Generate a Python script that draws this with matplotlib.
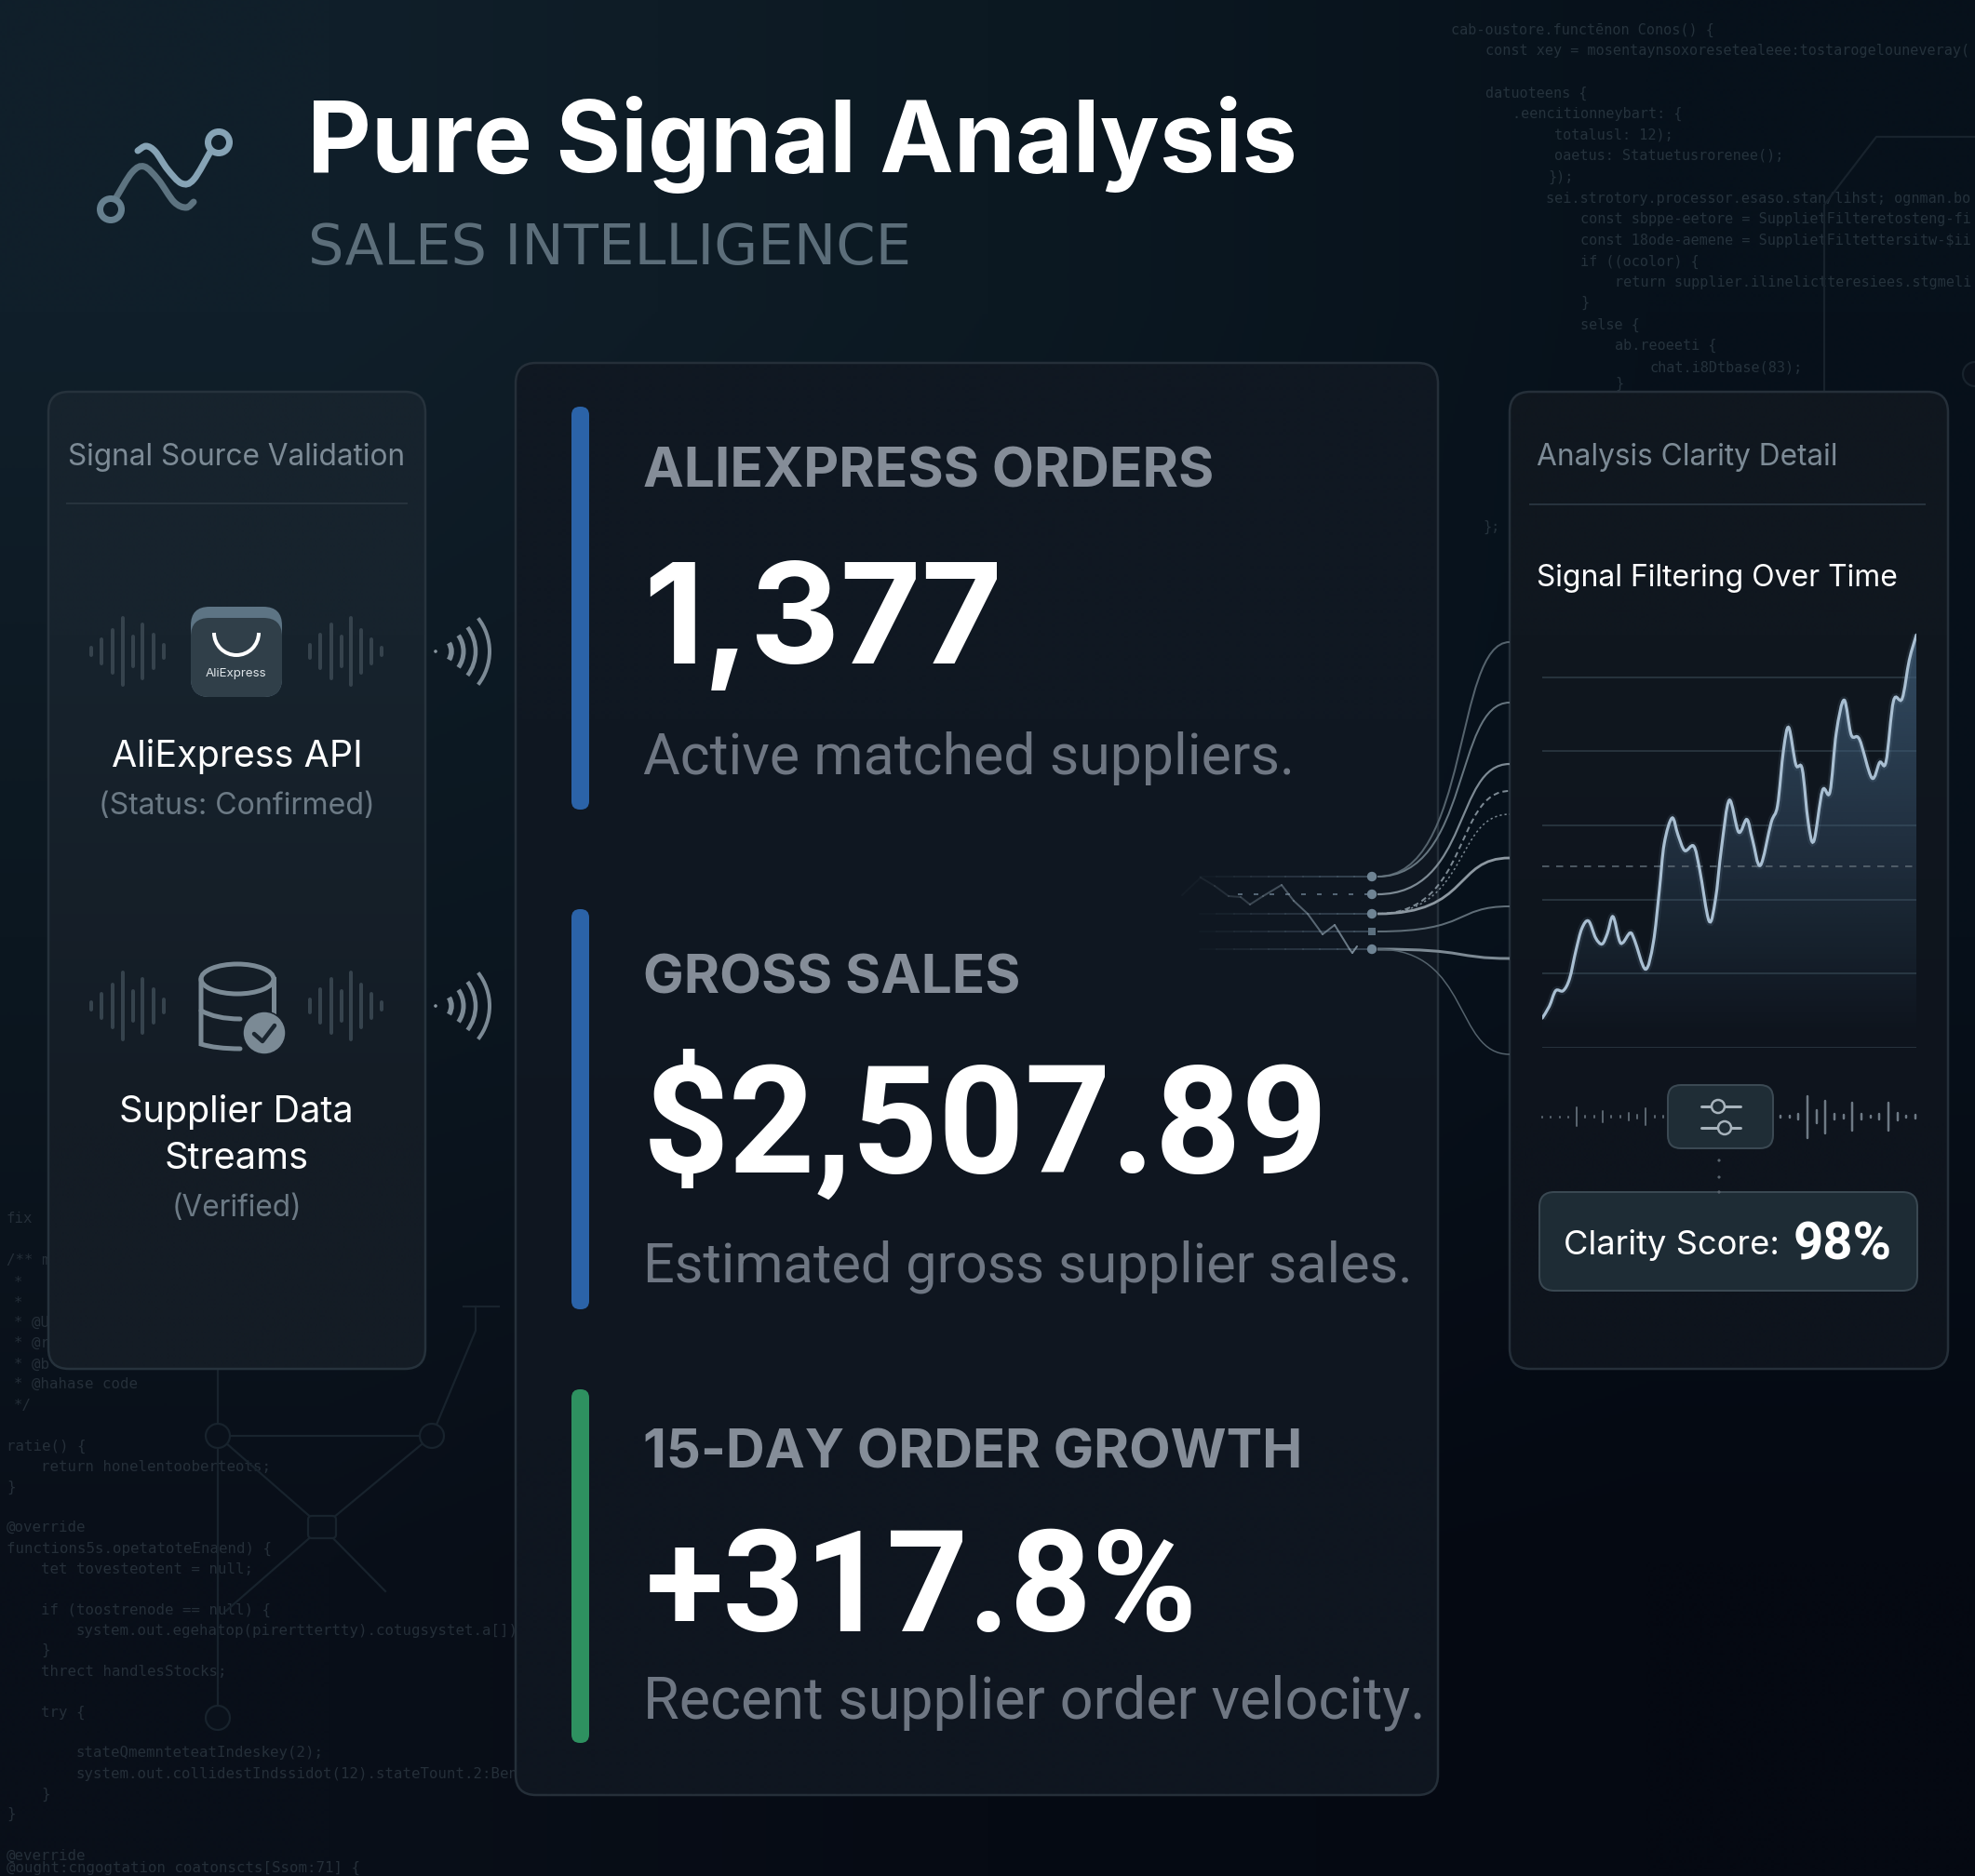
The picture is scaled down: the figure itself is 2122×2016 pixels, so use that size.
import matplotlib
matplotlib.use("Agg")
import matplotlib.pyplot as plt
import numpy as np
from matplotlib.collections import LineCollection
from matplotlib.colors import to_rgb
from matplotlib.patches import Arc, Circle, Ellipse, FancyBboxPatch, PathPatch, Rectangle
from matplotlib.path import Path

W, H = 2122, 2016
PT = 0.72  # one pixel in points at dpi 100
plt.rcParams["font.family"] = ["Inter", "DejaVu Sans"]

# --- chart data ---
title = "Pure Signal Analysis"
subtitle = "SALES INTELLIGENCE"
metric_labels = ["ALIEXPRESS ORDERS", "GROSS SALES", "15-DAY ORDER GROWTH"]
metric_values = ["1,377", "$2,507.89", "+317.8%"]
metric_notes = ["Active matched suppliers.", "Estimated gross supplier sales.", "Recent supplier order velocity."]
clarity_score = "98%"

signal_t = [0, 1.9, 3.6, 5.6, 7.3, 9.0, 10.6, 12.4, 14.3, 16.0, 17.4, 18.9, 20.6, 21.6, 23.5, 24.7, 27.6, 29.7,
            31.3, 32.6, 34.7, 36.3, 38.1, 40.5, 42.1, 44.6, 46.3, 47.9, 50.0, 52.5, 54.7, 56.2, 58.3, 61.2, 62.9,
            64.5, 65.9, 67.8, 69.5, 71.1, 72.6, 74.9, 76.9, 78.6, 80.7, 82.6, 84.8, 88.1, 90.2, 91.9, 93.9, 96.2,
            98.1, 100]
signal_v = [4.0, 5.6, 7.7, 7.7, 9.3, 13.1, 16.1, 17.1, 14.8, 14.0, 15.4, 17.7, 14.5, 14.2, 15.5, 14.5, 10.6, 14.2,
            21.2, 27.5, 31.0, 28.7, 26.6, 27.2, 24.0, 17.1, 20.0, 26.9, 33.4, 29.1, 30.8, 28.1, 24.6, 30.4, 32.7,
            40.2, 43.2, 38.2, 37.6, 30.4, 27.9, 34.7, 34.5, 42.5, 46.9, 42.2, 41.6, 36.4, 38.5, 38.6, 46.8, 47.1,
            52.3, 55.7]
grid_levels = [0, 10, 20, 30, 40, 50]
threshold = 24.5

wave_left = [24, 72, 130, 200, 90, 165, 100, 40]
wave_right = [40, 100, 165, 90, 200, 130, 72, 24]
filter_left = [3, 3, 3, 3, 60, 6, 6, 35, 4, 4, 22, 12, 52, 5, 5]
filter_right = [4, 6, 18, 135, 40, 105, 16, 14, 90, 20, 8, 16, 90, 26, 8, 12]

link_from = [942, 942, 961, 982, 982, 982, 1001, 1020, 1020]
link_to = [690, 755, 821, 850, 875, 922, 974, 1030, 1133]
trace_x = [1270, 1290, 1305, 1320, 1333, 1343, 1357, 1377, 1390, 1405, 1421, 1434, 1450, 1453, 1458]
trace_y = [962, 943, 952, 963, 964, 972, 963, 951, 968, 982, 1004, 994, 1020, 1024, 1017]

code_top = [
    (1559, 37, "cab-oustore.functēnon Conos() {"),
    (1596, 59, "const xey = mosentaynsoxoresetealeee:tostarogelouneveray("),
    (1596, 105, "datuoteens {"),
    (1625, 127, ".eencitionneybart: {"),
    (1670, 150, "totalusl: 12);"),
    (1670, 172, "oaetus: Statuetusrorenee();"),
    (1663, 195, "});"),
    (1661, 218, "sei.strotory.processor.esaso.stan/lihst; ognman.bo"),
    (1698, 240, "const sbppe-eetore = SupplietFilteretosteng-fi"),
    (1698, 263, "const 18ode-aemene = SupplietFiltettersitw-$ii"),
    (1698, 286, "if ((ocolor) {"),
    (1735, 308, "return supplier.ilinelictteresiees.stgmeli"),
    (1698, 330, "}"),
    (1698, 354, "selse {"),
    (1735, 376, "ab.reoeeti {"),
    (1772, 399, "chat.i8Dtbase(83);"),
    (1735, 417, "}"),
    (1593, 571, "};"),
]
code_bottom = [
    (7, 1314, "fix"), (7, 1359, "/** m"), (15, 1383, "*"), (15, 1405, "*"), (15, 1426, "* @U"), (15, 1448, "* @r"),
    (15, 1471, "* @b"), (15, 1492, "* @hahase code"), (15, 1515, "*/"), (7, 1559, "ratie() {"),
    (44, 1581, "return honelentooberteots;"), (7, 1603, "}"), (7, 1646, "@override"),
    (7, 1669, "functions5s.opetatoteEnaend) {"), (44, 1691, "tet tovesteotent = null;"),
    (44, 1735, "if (toostrenode == null) {"), (81, 1757, "system.out.egehatop(pirerttertty).cotugsystet.a[]);"),
    (44, 1778, "}"), (44, 1801, "threct handlesStocks;"), (44, 1845, "try {"),
    (81, 1888, "stateQmemnteteatIndeskey(2);"), (81, 1911, "system.out.collidestIndssidot(12).stateTount.2:Ben"),
    (44, 1933, "}"), (7, 1954, "}"), (7, 1999, "@everride"), (7, 2012, "@ought:cngogtation coatonscts[Ssom:71] {"),
]

fig = plt.figure(figsize=(W / 100, H / 100), dpi=100)
ax = fig.add_axes([0, 0, 1, 1])
ax.set_xlim(0, W)
ax.set_ylim(H, 0)
ax.axis("off")
renderer = fig.canvas.get_renderer()


def rgb(c):
    return np.array(to_rgb(c))


def put(s, x0, x1, base, color="white", weight="normal", family=None, z=20):
    t = ax.text(x0, base, s, color=color, fontweight=weight, fontsize=40, va="baseline", ha="left", zorder=z)
    if family:
        t.set_family(family)
    w = t.get_window_extent(renderer).width
    t.set_fontsize(40 * (x1 - x0) / w)
    return t


def panel(x0, y0, x1, y1, top, bottom, edge, r=22, z=5, lw=2.5):
    grad = np.array([[rgb(top)], [rgb(bottom)]])
    box = FancyBboxPatch((x0 + r, y0 + r), x1 - x0 - 2 * r, y1 - y0 - 2 * r, boxstyle=f"round,pad={r},rounding_size={r}",
                         fc="none", ec=edge, lw=lw * PT, zorder=z + 0.5)
    ax.add_patch(box)
    im = ax.imshow(grad, extent=(x0, x1, y1, y0), aspect="auto", interpolation="bilinear", zorder=z)
    im.set_clip_path(box)


def smooth_path(x, y):
    pts = np.column_stack([x, y]).astype(float)
    n = len(pts)
    verts = [pts[0]]
    codes = [Path.MOVETO]
    for i in range(n - 1):
        p0, p1, p2, p3 = pts[max(i - 1, 0)], pts[i], pts[i + 1], pts[min(i + 2, n - 1)]
        verts += [p1 + (p2 - p0) / 6, p2 - (p3 - p1) / 6, p2]
        codes += [Path.CURVE4] * 3
    return Path(verts, codes)


def fade_line(xs, ys, color, a0, a1, lw, z=7):
    xs = np.asarray(xs, float)
    ys = np.asarray(ys, float)
    segs = [[(xs[i], ys[i]), (xs[i + 1], ys[i + 1])] for i in range(len(xs) - 1)]
    alphas = np.linspace(a0, a1, len(segs))
    cols = [(*to_rgb(color), a) for a in alphas]
    ax.add_collection(LineCollection(segs, colors=cols, linewidths=lw * PT, zorder=z, capstyle="round"))


def bars(x_list, heights, yc, color, lw, z=8):
    x_list = np.asarray(x_list, float)
    h = np.asarray(heights, float)
    ax.vlines(x_list, yc - h / 2, yc + h / 2, colors=color, linewidth=lw * PT, capstyle="round", zorder=z)


# background
grid_bg = [["#101f2a", "#0c1922", "#07111b"], ["#0c1720", "#0a1520", "#07101a"], ["#090f19", "#060b14", "#050912"]]
corners = np.array([[rgb(c) for c in row] for row in grid_bg])
ax.imshow(corners, extent=(0, W, H, 0), aspect="auto", interpolation="bilinear", zorder=0)

# faint code
for x, y, s in code_top:
    ax.text(x, y, s, family="DejaVu Sans Mono", fontsize=10.9, color="#25323c", va="baseline", zorder=1)
for x, y, s in code_bottom:
    ax.text(x, y, s, family="DejaVu Sans Mono", fontsize=11.3, color="#252f39", va="baseline", zorder=1)

# faint circuit lines
circuit = "#18232d"
for seg in [[(2122, 147), (2016, 147), (1960, 220), (1960, 421)],
            [(234, 1471), (234, 1846)], [(234, 1543), (464, 1543)], [(234, 1543), (346, 1641)],
            [(464, 1543), (346, 1641)], [(346, 1641), (243, 1731)], [(346, 1641), (414, 1710)],
            [(464, 1543), (511, 1430), (511, 1404)], [(498, 1404), (536, 1404)]]:
    ax.plot(*zip(*seg), color=circuit, lw=2.2 * PT, zorder=1)
for cx, cy in [(234, 1543), (464, 1543), (234, 1846), (2122, 402)]:
    ax.add_patch(Ellipse((cx, cy), 26, 26, fc="#0a111b", ec=circuit, lw=2.2 * PT, zorder=1.5))
ax.add_patch(FancyBboxPatch((333, 1631), 26, 20, boxstyle="round,pad=2,rounding_size=4", fc="#0a111b", ec=circuit,
                            lw=2.2 * PT, zorder=1.5))

# logo
low_x, low_y = [125, 142, 155, 170, 187, 200, 208], [212, 185, 179, 193, 217, 223, 217]
up_x, up_y = [148, 157, 167, 180, 195, 208, 226], [162, 157, 163, 182, 197, 193, 163]
ax.add_patch(PathPatch(smooth_path(low_x, low_y), fc="none", ec="#5d7380", lw=7 * PT, capstyle="round", zorder=4))
ax.add_patch(PathPatch(smooth_path(up_x, up_y), fc="none", ec="#86a3b5", lw=7 * PT, capstyle="round", zorder=4))
ax.add_patch(Circle((119, 225), 11.5, fc="none", ec="#66808f", lw=7 * PT, zorder=4))
ax.add_patch(Circle((235, 153), 11.5, fc="none", ec="#86a3b5", lw=7 * PT, zorder=4))

put(title, 330, 1395, 185, weight="bold")
put(subtitle, 331, 979, 284, color="#5c6e7a", family=["DejaVu Sans"])

# panels
panel(52, 421, 457, 1471, "#17232d", "#141c25", "#26323c")
panel(554, 390, 1545, 1929, "#101822", "#0f1620", "#252f39")
panel(1622, 421, 2093, 1471, "#10171f", "#0e141d", "#252f39")

# connection lines in the gap, drawn over the glass panel
for y in [942, 982, 1001, 1020]:
    fade_line(np.linspace(1270, 1474, 12), [y] * 12, "#55697a", 0.0, 0.55, 2)
ax.plot([1330, 1474], [961, 961], color="#66798a", lw=2 * PT, ls=(0, (2.5, 6)), alpha=0.8, zorder=7)
fade_line(trace_x, trace_y, "#7e8f9c", 0.05, 0.95, 2)
styles = ["-", "-", "-", (0, (3, 2)), (0, (1.5, 2)), "-", "-", "-", "-"]
widths = [2, 2, 2.2, 2, 1.5, 2.8, 2, 3, 1.5]
shades = ["#55636d", "#66757f", "#7d8a94", "#7d8a94", "#7d8a94", "#8d98a1", "#5f6d77", "#7d8a94", "#55636d"]
for y0, y1, st, lw, col in zip(link_from, link_to, styles, widths, shades):
    x0, x1 = 1480, 1622
    p = Path([(x0, y0), (x0 + 100, y0), (x1 - 60, y1), (x1, y1)], [Path.MOVETO] + [Path.CURVE4] * 3)
    ax.add_patch(PathPatch(p, fc="none", ec=col, lw=lw * PT, ls=st, zorder=7))
for y in [942, 961, 982, 1020]:
    ax.add_patch(Circle((1474, y), 5.2, fc="#6f8494", ec="none", zorder=8))
ax.add_patch(Rectangle((1470, 997), 8, 8, fc="#5b6f7e", ec="none", zorder=8))

# left panel
put("Signal Source Validation", 73, 436, 500, color="#7d8b96")
ax.plot([72, 437], [541, 541], color="#27333d", lw=2 * PT, zorder=6)

wx_l = [98, 109, 121, 132, 143, 153, 165, 176]
wx_r = [333, 344, 356, 367, 377, 388, 399, 410]
for yc in [700, 1081]:
    bars(wx_l, np.array(wave_left) / 2.8, yc, "#36434d", 4)
    bars(wx_r, np.array(wave_right) / 2.8, yc, "#36434d", 4)
    ax.add_patch(Circle((468, yc), 1.8, fc="#8996a0", ec="none", zorder=8))
    for r, half, lw in [(17, 32, 5.5), (30, 35, 5), (43, 37, 4.5), (58, 38, 4)]:
        ax.add_patch(Arc((468, yc), 2 * r, 2 * r, theta1=-half, theta2=half, color="#7c8a95", lw=lw * PT, zorder=8))

# bag icon
ax.add_patch(FancyBboxPatch((225, 672), 58, 57, boxstyle="round,pad=20,rounding_size=20", fc="#5d7484", ec="none", zorder=8))
ax.add_patch(FancyBboxPatch((225, 684), 58, 45, boxstyle="round,pad=20,rounding_size=20", fc="#303f49", ec="none", zorder=8.5))
ax.add_patch(Arc((254, 680), 48, 48, theta1=0, theta2=180, color="white", lw=4 * PT, zorder=9))
put("AliExpress", 221, 287, 727, color="#dfe5e9", z=9)
put("AliExpress API", 120, 390, 824)
put("(Status: Confirmed)", 106, 403, 875, color="#6c7a85")

# database icon
db = "#7b8a95"
ax.add_patch(Ellipse((255, 1052), 78, 32, fc="none", ec=db, lw=5 * PT, zorder=8))
ax.add_patch(PathPatch(Path([(216, 1052), (216, 1122), (232, 1127), (258, 1127)],
                            [Path.MOVETO, Path.LINETO, Path.CURVE3, Path.CURVE3]), fc="none", ec=db, lw=5 * PT,
                       capstyle="round", zorder=8))
ax.add_patch(PathPatch(Path([(216, 1086), (232, 1095), (258, 1095)], [Path.MOVETO, Path.CURVE3, Path.CURVE3]),
                       fc="none", ec=db, lw=5 * PT, capstyle="round", zorder=8))
ax.plot([294, 294], [1052, 1088], color=db, lw=5 * PT, zorder=8)
ax.add_patch(Circle((284, 1110), 23, fc=db, ec="#151e28", lw=1.5 * PT, zorder=9))
ax.plot([273, 282, 295], [1111, 1119, 1102], color="#1b2630", lw=4.5 * PT, solid_capstyle="round",
        solid_joinstyle="round", zorder=10)
put("Supplier Data", 128, 380, 1206)
put("Streams", 177, 332, 1256)
put("(Verified)", 185, 325, 1307, color="#6c7a85")

# centre panel
bar_y = [(437, 870), (977, 1407), (1493, 1873)]
bar_c = ["#2b63a8", "#2b63a8", "#2e9160"]
label_pos = [(691, 1304, 523), (691, 1096, 1068), (691, 1399, 1577)]
value_pos = [(691, 1076, 713), (691, 1426, 1260), (694, 1286, 1753)]
value_font = [None, ["Roboto", "DejaVu Sans"], ["Roboto", "DejaVu Sans"]]
note_pos = [(691, 1390, 832), (691, 1518, 1378), (691, 1530, 1847)]
for i in range(3):
    ax.add_patch(FancyBboxPatch((623, bar_y[i][0] + 9), 1, bar_y[i][1] - bar_y[i][0] - 18,
                                boxstyle="round,pad=9,rounding_size=9", fc=bar_c[i], ec="none", zorder=7))
    put(metric_labels[i], *label_pos[i], color="#858d98", weight="bold")
    put(metric_values[i], *value_pos[i], weight="bold", family=value_font[i])
    put(metric_notes[i], *note_pos[i], color="#6e7682", family=["Roboto", "DejaVu Sans"])

# right panel
put("Analysis Clarity Detail", 1651, 1975, 500, color="#7d8b96")
ax.plot([1644, 2068], [542, 542], color="#27333d", lw=2 * PT, zorder=6)
put("Signal Filtering Over Time", 1651, 2039, 630)

ax.add_patch(FancyBboxPatch((1806, 1180), 85, 40, boxstyle="round,pad=14,rounding_size=14", fc="#1f2d36", ec="#3b4953",
                            lw=2 * PT, zorder=7))
for yy, cx in [(1189, 1846), (1212, 1853)]:
    ax.plot([1828, 1870], [yy, yy], color="#a7b3bc", lw=3 * PT, solid_capstyle="round", zorder=8)
    ax.add_patch(Circle((cx, yy), 7, fc="#1f2d36", ec="#a7b3bc", lw=2.5 * PT, zorder=9))
fl_x = np.linspace(1657, 1787, len(filter_left))
fr_x = np.linspace(1913, 2058, len(filter_right))
bars(fl_x, np.array(filter_left) / 3, 1200, "#59646e", 2)
bars(fr_x, np.array(filter_right) / 3, 1200, "#6e7a85", 2.5)
for y in [1247, 1265, 1281]:
    ax.add_patch(Circle((1847, y), 1.6, fc="#59646e", ec="none", zorder=8))
ax.add_patch(FancyBboxPatch((1670, 1297), 374, 74, boxstyle="round,pad=16,rounding_size=16", fc="#1e2c35", ec="#3a4852",
                            lw=2 * PT, zorder=7))
put("Clarity Score:", 1680, 1912, 1348)
put(clarity_score, 1927, 2033, 1353, weight="bold", family=["Roboto", "DejaVu Sans"])

# signal chart, on its own axes
cx0, cx1, cy0, cy1 = 1657, 2059, 648, 1126
cax = fig.add_axes([cx0 / W, 1 - cy1 / H, (cx1 - cx0) / W, (cy1 - cy0) / H], facecolor="none")
cax.set_xlim(0, 100)
cax.set_ylim(0, 60)
cax.axis("off")
cax.hlines(grid_levels, 0, 100, color="#26323c", lw=2 * PT, zorder=1)
cax.hlines(threshold, 0, 100, color="#5f6c76", lw=1.5 * PT, linestyles=(0, (5, 5)), zorder=3)
curve = smooth_path(signal_t, signal_v)
closed = Path(list(curve.vertices) + [(100, 0), (0, 0), (0, signal_v[0])],
              list(curve.codes) + [Path.LINETO, Path.LINETO, Path.CLOSEPOLY])
alpha = np.clip(np.linspace(0.78, -0.02, 256), 0, 1)
fill = np.zeros((256, 1, 4))
fill[:, 0, :3] = rgb("#41607d")
fill[:, 0, 3] = alpha
im = cax.imshow(fill, extent=(0, 100, 0, 60), origin="upper", aspect="auto", zorder=2)
clip = PathPatch(closed, transform=cax.transData, fc="none", ec="none")
cax.add_patch(clip)
im.set_clip_path(clip)
cax.add_patch(PathPatch(curve, fc="none", ec="#7f9cb5", lw=8 * PT, alpha=0.12, zorder=4))
cax.add_patch(PathPatch(curve, fc="none", ec="#a9bfd2", lw=3.2 * PT, capstyle="round", zorder=5))
cax.set_xlim(0, 100)
cax.set_ylim(0, 60)

ax.set_xlim(0, W)
ax.set_ylim(H, 0)
fig.savefig("out.png", dpi=100)
